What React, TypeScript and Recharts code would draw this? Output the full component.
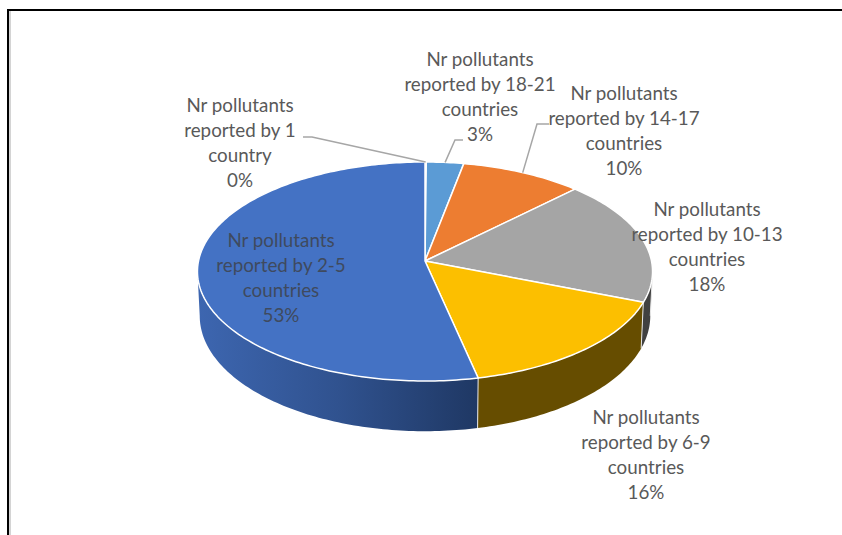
import { PieChart, Pie } from "recharts";

const categories = [
  "Nr pollutants reported by 1 country",
  "Nr pollutants reported by 18-21 countries",
  "Nr pollutants reported by 14-17 countries",
  "Nr pollutants reported by 10-13 countries",
  "Nr pollutants reported by 6-9 countries",
  "Nr pollutants reported by 2-5 countries",
];
const values = [0.1, 2.9, 9.5, 18.49, 15.6, 53.41];
const percentLabels = ["0%", "3%", "10%", "18%", "16%", "53%"];
const labelLines = [
  ["Nr pollutants", "reported by 1", "country"],
  ["Nr pollutants", "reported by 18-21", "countries"],
  ["Nr pollutants", "reported by 14-17", "countries"],
  ["Nr pollutants", "reported by 10-13", "countries"],
  ["Nr pollutants", "reported by 6-9", "countries"],
  ["Nr pollutants", "reported by 2-5", "countries"],
];
const topColors = ["#5b9bd5", "#5b9bd5", "#ed7d31", "#a5a5a5", "#fcbf00", "#4472c4"];
const wallColors = ["#3a6a96", "#3a6a96", "#8e4b1d", "#414141", "#664d00", "url(#blueWall)"];

// where each data label sits, and the elbow of its leader line if it has one
const labelCentres = [
  [240, 104],
  [480, 58],
  [624, 92],
  [707, 208],
  [646, 416],
  [281, 239],
];
const leaderElbows = [
  [[303, 137], [312, 137]],
  [[463, 140], [455, 140]],
  [[549, 124], [537, 124]],
  null,
  null,
  null,
];

const data = categories.map((name, i) => ({ name, value: values[i] }));

// the 3D look: a circle tipped back with some perspective
const CX = 425;
const CY = 261;
const RADIUS = 226.5;
const TILT = 108.5;
const PERSP = 0.0959;
const SIDE_LIMIT = Math.asin(PERSP);

function project(angle: number) {
  const rad = (angle * Math.PI) / 180;
  const u = Math.cos(rad);
  const v = -Math.sin(rad);
  const k = 1 / (1 - PERSP * v);
  return { x: CX + RADIUS * u * k, y: CY + TILT * v * k, v };
}

function dropped(p: { x: number; y: number; v: number }) {
  return { x: CX + (p.x - CX) * 0.99, y: p.y + 43.7 + 6.5 * p.v };
}

function arc(from: number, to: number) {
  const steps = Math.max(2, Math.ceil(Math.abs(from - to)));
  const pts = [];
  for (let i = 0; i <= steps; i++) pts.push(project(from + ((to - from) * i) / steps));
  return pts;
}

const toPath = (pts: { x: number; y: number }[]) =>
  pts.map((p, i) => `${i ? "L" : "M"}${p.x.toFixed(2)} ${p.y.toFixed(2)}`).join(" ") + " Z";

function TopSlice(props: any) {
  const pts = [{ x: CX, y: CY }, ...arc(props.startAngle, props.endAngle)];
  return <path d={toPath(pts)} fill={props.fill} stroke="#ffffff" strokeWidth={1.5} strokeLinejoin="round" />;
}

function WallSlice(props: any) {
  // front of the pie runs from -SIDE_LIMIT round to -180+SIDE_LIMIT in chart angles
  const limit = (SIDE_LIMIT * 180) / Math.PI;
  const from = Math.min(props.startAngle, -limit);
  const to = Math.max(props.endAngle, -180 + limit);
  if (from <= to) return <g />;
  const upper = arc(from, to);
  const lower = upper.map(dropped).reverse();
  const first = upper[0];
  const firstLow = dropped(first);
  return (
    <g>
      <path d={toPath([...upper, ...lower])} fill={props.fill} stroke="none" />
      <line x1={first.x} y1={first.y} x2={firstLow.x} y2={firstLow.y} stroke="#e8e8e8" strokeWidth={1} />
    </g>
  );
}

function SliceLabel(props: any) {
  const i = props.index;
  const [x, y] = labelCentres[i];
  const elbow = leaderElbows[i];
  const anchor = project(props.midAngle);
  const rows = [...labelLines[i], percentLabels[i]];
  return (
    <g>
      {elbow && (
        <polyline
          points={[...elbow, [anchor.x, anchor.y]].map((p) => p.join(",")).join(" ")}
          fill="none"
          stroke="#a6a6a6"
          strokeWidth={1.5}
        />
      )}
      {rows.map((row, r) => (
        <text
          key={r}
          x={x}
          y={y + r * 25.2}
          textAnchor="middle"
          dominantBaseline="central"
          fontFamily="Lato, 'Open Sans', sans-serif"
          fontSize={18.8}
          fill={i === 5 ? "#3f4a5e" : "#595959"}
        >
          {row}
        </text>
      ))}
    </g>
  );
}

export default function App() {
  return (
    <div style={{ position: "absolute", left: 0, top: 0, width: 842, height: 535, background: "#fff", overflow: "hidden" }}>
      <div
        style={{
          position: "absolute",
          left: 7,
          top: 9,
          width: 835,
          height: 526,
          borderTop: "2px solid #000",
          borderLeft: "2px solid #000",
          boxSizing: "border-box",
        }}
      />
      <div style={{ position: "absolute", left: 9, top: 11, width: 2, height: 524, background: "#d4d4d4" }} />
      <PieChart width={842} height={535} margin={{ top: 0, right: 0, bottom: 0, left: 0 }} style={{ position: "absolute", left: 0, top: 0 }}>
        <defs>
          <linearGradient id="blueWall" gradientUnits="userSpaceOnUse" x1={198} y1={0} x2={478} y2={0}>
            <stop offset="0%" stopColor="#3d66b0" />
            <stop offset="50%" stopColor="#30528f" />
            <stop offset="100%" stopColor="#1f3864" />
          </linearGradient>
        </defs>
        <Pie
          data={data.map((d, i) => ({ ...d, fill: wallColors[i] }))}
          dataKey="value"
          nameKey="name"
          cx={CX}
          cy={CY}
          outerRadius={RADIUS}
          startAngle={90}
          endAngle={-270}
          stroke="none"
          shape={WallSlice}
          label={false}
          labelLine={false}
          isAnimationActive={false}
        />
        <Pie
          data={data.map((d, i) => ({ ...d, fill: topColors[i] }))}
          dataKey="value"
          nameKey="name"
          cx={CX}
          cy={CY}
          outerRadius={RADIUS}
          startAngle={90}
          endAngle={-270}
          shape={TopSlice}
          label={SliceLabel}
          labelLine={false}
          isAnimationActive={false}
        />
      </PieChart>
    </div>
  );
}
